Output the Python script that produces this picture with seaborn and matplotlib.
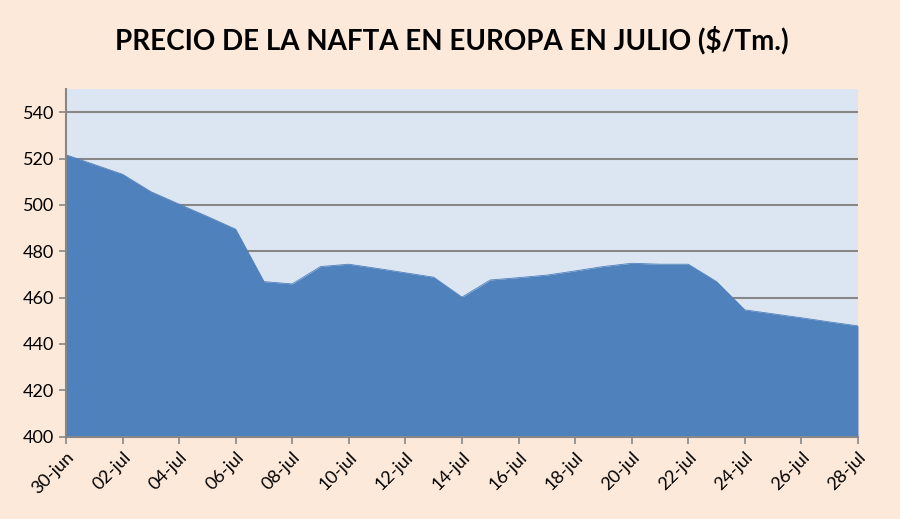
import matplotlib
matplotlib.use("Agg")
import matplotlib.pyplot as plt
import seaborn as sns
import pandas as pd

# daily prices ($/Tm.)
dates = pd.date_range("2010-06-30", "2010-07-28", freq="D")
precios = [521.6, 517.4, 513.2, 505.7, 500.3, 495.0, 489.5, 466.9, 465.9,
           473.4, 474.4, 472.6, 470.7, 468.8, 460.2, 467.6, 468.6, 469.7,
           471.5, 473.4, 474.8, 474.4, 474.4, 466.9, 454.7, 453.0, 451.3,
           449.5, 447.8]
tick_dates = pd.date_range("2010-06-30", "2010-07-28", freq="2D")
tick_labels = ["30-jun", "02-jul", "04-jul", "06-jul", "08-jul", "10-jul",
               "12-jul", "14-jul", "16-jul", "18-jul", "20-jul", "22-jul",
               "24-jul", "26-jul", "28-jul"]
y_ticks = [400, 420, 440, 460, 480, 500, 520, 540]

df = pd.DataFrame({"fecha": dates, "precio": precios})

sns.set_theme(style="white")
plt.rcParams["font.family"] = ["Lato", "DejaVu Sans"]

fill_col = "#4F81BD"
grid_col = "#878787"

fig = plt.figure(figsize=(9, 5.19), dpi=100, facecolor="#FDE9D9")
ax = fig.add_axes([0.0733, 0.1586, 0.88, 0.67])
ax.set_facecolor("#DCE6F2")

sns.lineplot(data=df, x="fecha", y="precio", ax=ax, color=fill_col, linewidth=0.6)
ax.fill_between(df["fecha"], df["precio"], 400, color=fill_col, zorder=2, linewidth=0)

ax.set_xlim(dates[0], dates[-1])
ax.set_ylim(400, 550)
ax.set_yticks(y_ticks)
ax.set_xticks(tick_dates)
ax.set_xticklabels(tick_labels, rotation=45, ha="right", rotation_mode="anchor")
ax.tick_params(axis="both", labelsize=13, colors=grid_col, labelcolor="black",
               length=5, width=1.2, direction="out", bottom=True, left=True)
ax.set_xlabel("")
ax.set_ylabel("")

for y in y_ticks[1:]:
    ax.axhline(y, color=grid_col, linewidth=1.5, zorder=1)

for side in ["top", "right"]:
    ax.spines[side].set_visible(False)
for side in ["left", "bottom"]:
    ax.spines[side].set_color(grid_col)
    ax.spines[side].set_linewidth(1.5)
    ax.spines[side].set_zorder(4)

fig.text(0.502, 0.923, "PRECIO DE LA NAFTA EN EUROPA EN JULIO ($/Tm.)",
         ha="center", va="center", fontsize=20, fontweight="bold", color="black")

fig.savefig("out.png", dpi=100, facecolor=fig.get_facecolor())
